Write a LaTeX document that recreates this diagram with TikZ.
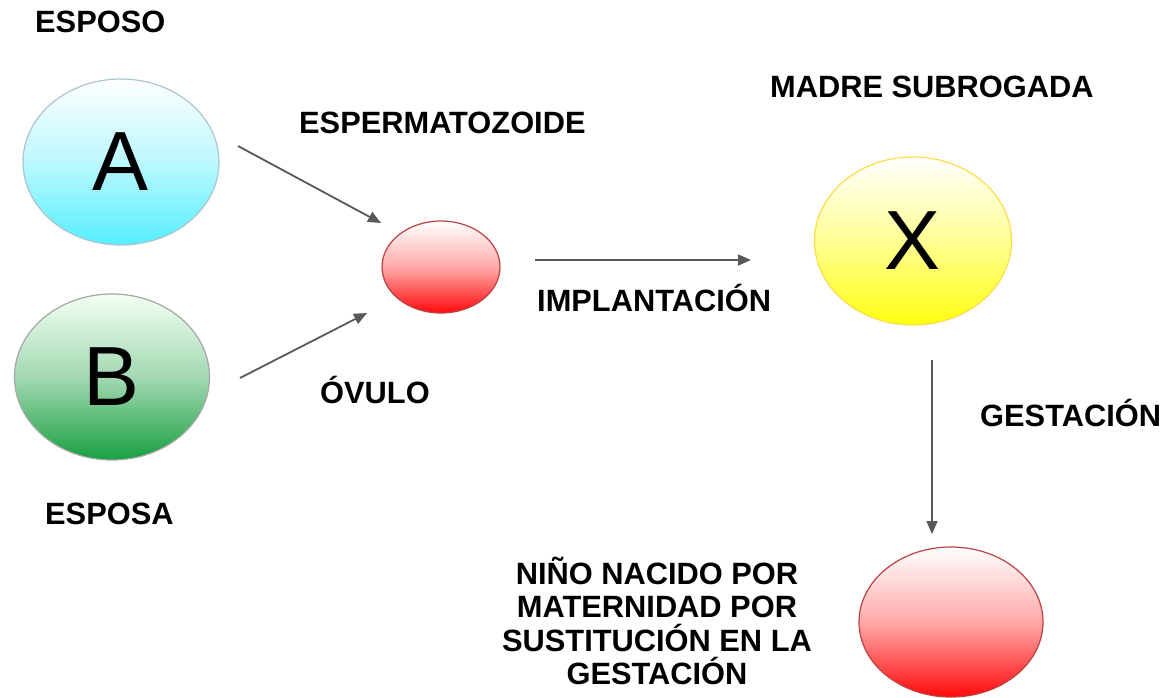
\documentclass[tikz,border=0pt]{standalone}
\usepackage{fontspec}
\setmainfont{Liberation Sans}
\usetikzlibrary{shapes.geometric,arrows.meta}
\definecolor{cyanb}{HTML}{55EEFF}
\definecolor{greenb}{HTML}{18A040}
\definecolor{redb}{HTML}{FF0A0A}
\definecolor{yelb}{HTML}{FFFF10}
\tikzset{
  blob/.style={ellipse, inner sep=0pt, line width=1.2pt, font=\fontsize{84}{84}\selectfont},
  lab/.style={font=\bfseries\fontsize{30.8}{33}\selectfont, text=black, inner sep=0pt},
  arr/.style={draw=black!65, line width=1.8pt, -{Triangle[length=13pt,width=11pt]}},
}
\begin{document}
\begin{tikzpicture}[x=1pt,y=-1pt]
\useasboundingbox (0,0) rectangle (1169,697);
% ellipses
\node[blob, minimum width=196pt, minimum height=166pt, draw=cyan!30!gray!60, top color=white, bottom color=cyanb, middle color=cyanb!40] (A) at (121,162) {A};
\node[blob, minimum width=195pt, minimum height=166pt, draw=gray!70, top color=green!5!white, bottom color=greenb, middle color=greenb!40] (B) at (112,377) {B};
\node[blob, minimum width=118pt, minimum height=92pt, draw=red!50!gray, top color=white, bottom color=redb, middle color=redb!35] (E) at (441,267) {};
\node[blob, minimum width=197pt, minimum height=168pt, draw=orange!40!yellow!70, top color=white, bottom color=yelb, middle color=yelb!45] (X) at (913,241) {X};
\node[blob, minimum width=184pt, minimum height=150pt, draw=red!50!gray, top color=white, bottom color=redb, middle color=redb!35] (N) at (951,622) {};
% arrow end points
\coordinate (a1) at (238,146);
\coordinate (a2) at (381,223);
\coordinate (b1) at (240,378);
\coordinate (b2) at (367,313);
\coordinate (i1) at (535,260);
\coordinate (i2) at (751,260);
\coordinate (g1) at (932,360);
\coordinate (g2) at (932,534);
\draw[arr] (a1) -- (a2);
\draw[arr] (b1) -- (b2);
\draw[arr] (i1) -- (i2);
\draw[arr] (g1) -- (g2);
% labels
\node[lab, anchor=west] (l1) at (35,22) {ESPOSO};
\node[lab, anchor=west] (l2) at (299,123) {ESPERMATOZOIDE};
\node[lab, anchor=west] (l3) at (770,87) {MADRE SUBROGADA};
\node[lab, anchor=west] (l4) at (537,298) {IMPLANTACIÓN};
\node[lab, anchor=west] (l5) at (320,390) {ÓVULO};
\node[lab, anchor=west] (l6) at (980,413) {GESTACIÓN};
\node[lab, anchor=west] (l7) at (45,514) {ESPOSA};
\node[lab, align=center, font=\bfseries\fontsize{30.8}{33.5}\selectfont] (l8) at (657,621) {NIÑO NACIDO POR\\MATERNIDAD POR\\SUSTITUCIÓN EN LA\\GESTACIÓN};
\end{tikzpicture}
\end{document}
